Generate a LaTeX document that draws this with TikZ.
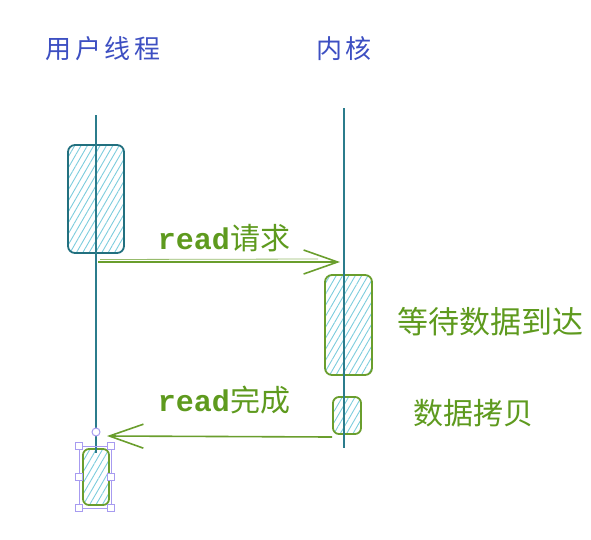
\documentclass[tikz,border=0pt]{standalone}
\usepackage{fontspec}
\usetikzlibrary{arrows.meta,patterns.meta}
\newfontfamily\cjk{Noto Sans CJK SC}
\newfontfamily\cjkhand[LetterSpace=15]{Noto Sans CJK SC}
\newfontfamily\monob{Liberation Mono}
\definecolor{titlec}{HTML}{3D4FC2}
\definecolor{lifec}{HTML}{2B7C8C}
\definecolor{tealc}{HTML}{22707F}
\definecolor{greenc}{HTML}{6A9E2D}
\definecolor{textg}{HTML}{5E9A1E}
\definecolor{hatchc}{HTML}{7CCCDD}
\definecolor{handc}{HTML}{A79BF0}
\begin{document}
\begin{tikzpicture}[x=1pt,y=-1pt,
  title/.style={text=titlec, font=\cjkhand\fontsize{26}{26}\selectfont, inner sep=0pt},
  lifeline/.style={draw=lifec, line width=1.6pt},
  actbox/.style={rounded corners=7pt, line width=1.8pt, inner sep=0pt,
    pattern={Lines[angle=60,distance=5.5pt,line width=0.9pt]}, pattern color=hatchc},
  msg/.style={draw=greenc, line width=1.6pt, -{Straight Barb[length=34pt,width=24pt,line width=1.6pt]}},
  msglabel/.style={text=textg, inner sep=0pt},
  notelabel/.style={text=textg, inner sep=0pt, font=\cjk\fontsize{31}{31}\selectfont},
  handle/.style={draw=handc, fill=white, line width=1pt, minimum size=7.5pt, inner sep=0pt, rectangle},
]
\useasboundingbox (0,0) rectangle (591,539);
% titles
\node[title] (t1) at (103,49) {用户线程};
\node[title] (t2) at (344,49) {内核};
% activation boxes
\node[actbox, draw=tealc, minimum width=56pt, minimum height=108pt] (ub) at (96,199) {};
\node[actbox, draw=greenc, minimum width=47pt, minimum height=100pt] (kb) at (348.5,325) {};
\node[actbox, draw=greenc, minimum width=28pt, minimum height=37pt, rounded corners=6pt] (cb) at (347,415.5) {};
\node[actbox, draw=greenc, minimum width=26pt, minimum height=56pt, rounded corners=6pt] (lb) at (96,477) {};
% lifelines
\coordinate (ltop) at (96,115);
\coordinate (lbot) at (96,453);
\coordinate (rtop) at (344,108);
\coordinate (rbot) at (344,448);
\draw[lifeline] (ltop) -- (lbot);
\draw[lifeline] (rtop) -- (rbot);
% messages
\coordinate (m1s) at (98,262);
\coordinate (m1e) at (340,262);
\coordinate (m2s) at (332,437);
\coordinate (m2e) at (107,436);
\draw[msg] (m1s) -- (m1e);
\draw[greenc!70, line width=0.8pt] (100,259.5) -- (318,259);
\draw[msg] (m2s) -- (m2e);
\node[msglabel] (l1) at (224,238) {{\monob\bfseries\fontsize{30}{30}\selectfont read}{\cjk\fontsize{30}{30}\selectfont 请求}};
\node[msglabel] (l2) at (224,400) {{\monob\bfseries\fontsize{30}{30}\selectfont read}{\cjk\fontsize{30}{30}\selectfont 完成}};
% notes
\node[notelabel] (n1) at (490,322) {等待数据到达};
\node[notelabel, font=\cjk\fontsize{30}{30}\selectfont] (n2) at (473,413) {数据拷贝};
% selection handles
\draw[handc, line width=0.8pt] (79,446) rectangle (111,508);
\node[handle] (h1) at (79,446) {};
\node[handle] (h2) at (111,446) {};
\node[handle] (h3) at (79,477) {};
\node[handle] (h4) at (111,477) {};
\node[handle] (h5) at (79,508) {};
\node[handle] (h6) at (111,508) {};
\node[draw=handc, fill=white, line width=1pt, circle, minimum size=8pt, inner sep=0pt] (rot) at (96,432) {};
\end{tikzpicture}
\end{document}
